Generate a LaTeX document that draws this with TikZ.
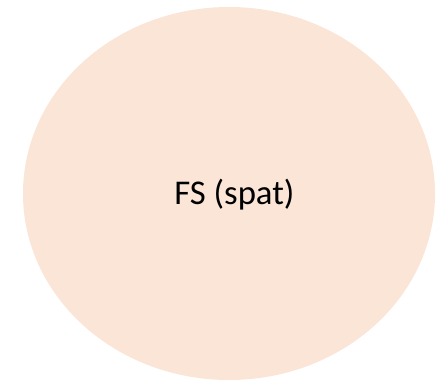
\documentclass[tikz,border=0pt]{standalone}
\usepackage{fontspec}
\setmainfont{Carlito}
\definecolor{peach}{HTML}{FBE5D6}
\begin{document}
\begin{tikzpicture}[x=1pt,y=1pt,
  blob/.style={fill=peach,draw=none},
  label/.style={font=\fontsize{34.7}{40}\selectfont,text=black}
]
  \useasboundingbox (0,0) rectangle (443,-382);
  \draw[blob] (229,-193.5) ellipse (206 and 186.5);
  \node[label,anchor=base] (fs) at (234.5,-204) {FS (spat)};
\end{tikzpicture}
\end{document}
